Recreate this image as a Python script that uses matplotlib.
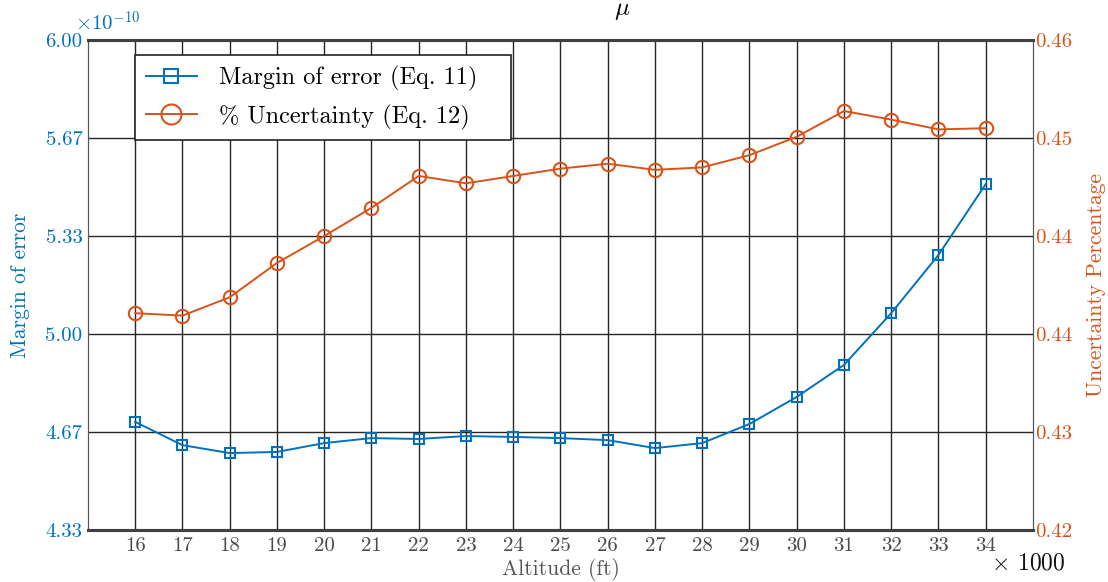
import numpy as np
import matplotlib.pyplot as plt

plt.rcParams['font.family'] = ['cmr10', 'DejaVu Serif']
plt.rcParams['mathtext.fontset'] = 'cm'
plt.rcParams['axes.formatter.use_mathtext'] = True

# Altitude in thousands of feet
altitude = [16, 17, 18, 19, 20, 21, 22, 23, 24, 25, 26, 27, 28, 29, 30, 31, 32, 33, 34]

# Margin of error (units of 1e-10)
margin = [4.701, 4.622, 4.595, 4.599, 4.629, 4.646, 4.643, 4.653, 4.650, 4.646,
          4.639, 4.612, 4.629, 4.694, 4.786, 4.895, 5.071, 5.269, 5.510]

# Uncertainty percentage
uncert = [0.4377, 0.4375, 0.4390, 0.4418, 0.4440, 0.4463, 0.4489, 0.4483, 0.4489, 0.4495,
          0.4499, 0.4494, 0.4496, 0.4506, 0.4521, 0.4542, 0.4535, 0.4527, 0.4528]

left_ticks = np.linspace(13 / 3, 6, 6)
right_ticks = np.linspace(0.42, 0.46, 6)

blue = '#0072BD'
orange = '#D95319'
gray = '#404040'

fig = plt.figure(figsize=(11.08, 5.82), dpi=100)
ax = fig.add_axes([0.0794, 0.0893, 0.8529, 0.842])
ax2 = ax.twinx()

l1, = ax.plot(altitude, margin, '-s', color=blue, lw=1.4, ms=7, mfc='none', mew=1.5,
              label='Margin of error (Eq. 11)')
l2, = ax2.plot(altitude, uncert, '-o', color=orange, lw=1.4, ms=9.6, mfc='none', mew=1.5,
               label='% Uncertainty (Eq. 12)')

ax.set_xlim(15, 35)
ax.set_ylim(left_ticks[0], left_ticks[-1])
ax2.set_ylim(right_ticks[0], right_ticks[-1])

ax.set_xticks(altitude)
ax.set_xticklabels([str(a) for a in altitude])
ax.set_yticks(left_ticks)
ax.set_yticklabels(['%.2f' % t for t in left_ticks])
ax2.set_yticks(right_ticks)
ax2.set_yticklabels(['%.2f' % t for t in right_ticks])

ax.grid(True, color='#262626', lw=1.0)
ax.set_axisbelow(True)

ax.tick_params(axis='x', length=0, labelsize=15, colors='#4a4a4a', pad=5)
ax.tick_params(axis='y', length=0, labelsize=15, colors=blue, pad=4)
ax2.tick_params(axis='y', length=0, labelsize=15, colors=orange, pad=1.5)

for a in (ax, ax2):
    a.spines['top'].set_linewidth(2.2)
    a.spines['bottom'].set_linewidth(2.2)
    a.spines['top'].set_color(gray)
    a.spines['bottom'].set_color(gray)
    a.spines['left'].set_color('#555555')
    a.spines['right'].set_color('#555555')

ax.set_xlabel('Altitude (ft)', fontsize=15.5, color='#555555', labelpad=2)
ax.set_ylabel('Margin of error', fontsize=15.5, color=blue, labelpad=11)
ax2.set_ylabel('Uncertainty Percentage', fontsize=15.5, color=orange, labelpad=10)
ax.set_title(r'$\mu$', fontsize=18, x=0.565, pad=18)

ax.text(-0.014, 1.011, r'$\times10^{-10}$', transform=ax.transAxes, color=blue,
        fontsize=15, ha='left', va='bottom')
ax.text(1.034, -0.045, r'$\times$ 1000', transform=ax.transAxes, color='#111111',
        fontsize=17, ha='right', va='top')

leg = ax2.legend(handles=[l1, l2], loc='upper left',
                 bbox_to_anchor=(0.0497, 0.5, 0.398, 0.4694), mode='expand',
                 borderaxespad=0, fontsize=17.5, frameon=True, fancybox=False,
                 edgecolor='#222222', framealpha=1, borderpad=0.45, handlelength=2.1,
                 handletextpad=0.9, labelspacing=0.55, markerscale=1.5)
leg.get_frame().set_linewidth(1.2)

fig.savefig('out.png', dpi=100)
